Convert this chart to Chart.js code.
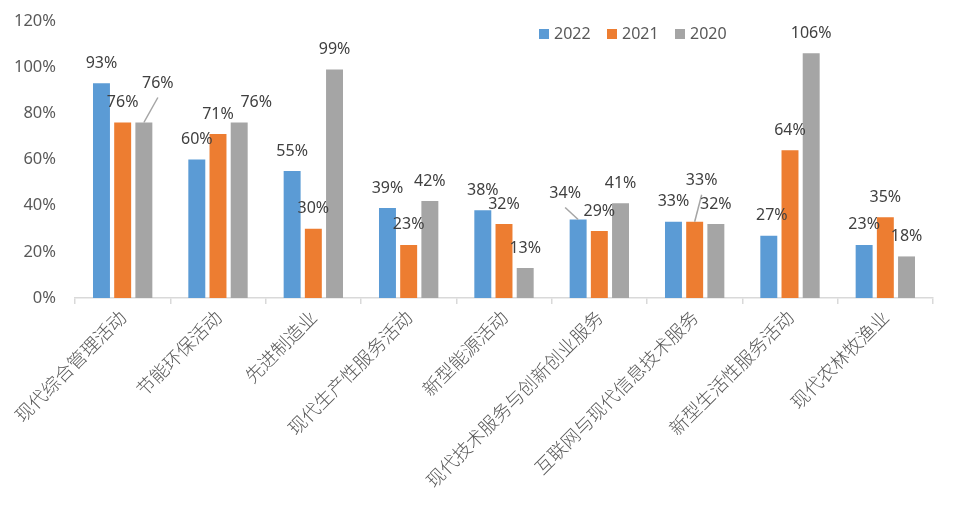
<!DOCTYPE html>
<html>
<head>
<meta charset="utf-8">
<script src="https://cdn.jsdelivr.net/npm/chart.js@4"></script>
<style>
  html, body { margin: 0; padding: 0; background: #fff; }
  #wrap { width: 960px; height: 506px; }
</style>
</head>
<body>
<div id="wrap"><canvas id="chartBidang"></canvas></div>
<script>
/* ===== data ===== */
const kategori = ["现代综合管理活动", "节能环保活动", "先进制造业", "现代生产性服务活动", "新型能源活动",
                  "现代技术服务与创新创业服务", "互联网与现代信息技术服务", "新型生活性服务活动", "现代农林牧渔业"];
const tahun = ["2022", "2021", "2020"];
const nilai2022 = [93, 60, 55, 39, 38, 34, 33, 27, 23];
const nilai2021 = [76, 71, 30, 23, 32, 29, 33, 64, 35];
const nilai2020 = [76, 76, 99, 42, 13, 41, 32, 106, 18];
const tickY = [0, 20, 40, 60, 80, 100, 120];

const warna = ["#5B9BD5", "#ED7D31", "#A5A5A5"];
const fontAngka = "'Noto Sans', 'Liberation Sans', sans-serif";
const fontCJK = "'Noto Sans CJK SC', sans-serif";

// label yang digeser manual (seperti di Excel), ds = index dataset, i = index kategori
const geserLabel = [
  { ds: 2, i: 0, dx: 14, dy: -19, garis: true },
  { ds: 2, i: 1, dx: 17, dy: 0 },
  { ds: 0, i: 5, dx: -13, dy: -6, garis: true },
  { ds: 1, i: 6, dx: 7, dy: -21, garis: true },
  { ds: 0, i: 7, dx: 3, dy: 0 }
];

// plugin label data di atas batang
const labelBatang = {
  id: "labelBatang",
  afterDatasetsDraw(chart) {
    const ctx = chart.ctx;
    ctx.save();
    ctx.font = "16px " + fontAngka;
    ctx.fillStyle = "#404040";
    ctx.textAlign = "center";
    ctx.textBaseline = "middle";
    chart.data.datasets.forEach((ds, d) => {
      chart.getDatasetMeta(d).data.forEach((bar, i) => {
        const g = geserLabel.find(o => o.ds === d && o.i === i) || { dx: 0, dy: 0 };
        const lx = bar.x + g.dx;
        const ly = bar.y - 20 + g.dy;
        if (g.garis) {
          ctx.strokeStyle = "#A5A5A5";
          ctx.lineWidth = 1.5;
          ctx.beginPath();
          ctx.moveTo(lx, ly + 14);
          ctx.lineTo(bar.x, bar.y);
          ctx.stroke();
        }
        ctx.fillText(ds.data[i] + "%", lx, ly);
      });
    });
    ctx.restore();
  }
};

// legend di dalam area grafik
const legendDalam = {
  id: "legendDalam",
  afterDraw(chart) {
    const ctx = chart.ctx;
    ctx.save();
    ctx.font = "16px " + fontAngka;
    ctx.textBaseline = "middle";
    ctx.textAlign = "left";
    let x = 539;
    const y = 34;
    chart.data.datasets.forEach((ds, d) => {
      ctx.fillStyle = ds.backgroundColor;
      ctx.fillRect(x, y - 5, 10, 10);
      ctx.fillStyle = "#595959";
      ctx.fillText(ds.label, x + 15, y);
      x += 68;
    });
    ctx.restore();
  }
};

new Chart(document.getElementById("chartBidang"), {
  type: "bar",
  data: {
    labels: kategori,
    datasets: [
      { label: tahun[0], data: nilai2022, backgroundColor: warna[0] },
      { label: tahun[1], data: nilai2021, backgroundColor: warna[1] },
      { label: tahun[2], data: nilai2020, backgroundColor: warna[2] }
    ]
  },
  options: {
    responsive: true,
    maintainAspectRatio: false,
    animation: false,
    layout: { padding: { top: 20, right: 27, left: 0, bottom: 0 } },
    datasets: { bar: { categoryPercentage: 0.667, barPercentage: 0.8 } },
    plugins: {
      legend: { display: false },
      tooltip: { enabled: false }
    },
    scales: {
      x: {
        grid: { display: true, drawOnChartArea: false, drawTicks: true, tickLength: 6, color: "#D9D9D9", offset: true, lineWidth: 1.5 },
        border: { display: true, color: "#D9D9D9", width: 1.5 },
        ticks: {
          minRotation: 45, maxRotation: 45, autoSkip: false, padding: 2,
          color: "#595959", font: { family: fontCJK, size: 18.5, weight: 300 }
        },
        afterFit(scale) { scale.height = 208; }
      },
      y: {
        min: 0, max: 120,
        grid: { display: false },
        border: { display: false },
        afterBuildTicks(scale) { scale.ticks = tickY.map(v => ({ value: v })); },
        ticks: {
          padding: 11, color: "#595959", font: { family: fontAngka, size: 16.5 },
          callback: v => v + "%"
        },
        afterFit(scale) { scale.width = 75; }
      }
    }
  },
  plugins: [labelBatang, legendDalam]
});
</script>
</body>
</html>
